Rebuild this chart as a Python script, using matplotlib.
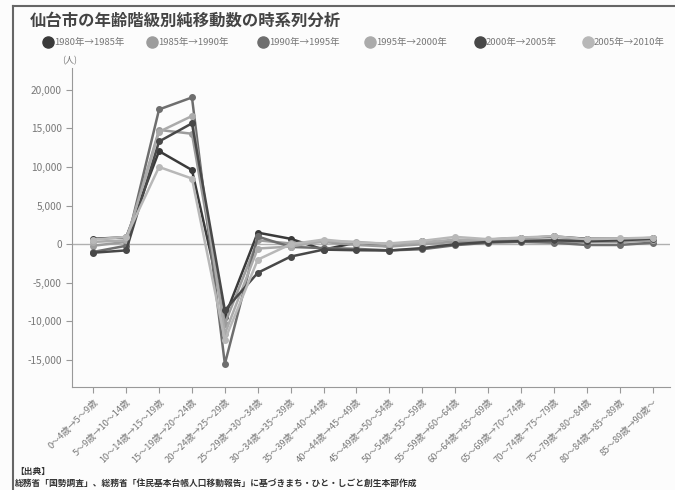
import matplotlib
matplotlib.use("Agg")
import matplotlib.pyplot as plt
from matplotlib.ticker import FuncFormatter
from matplotlib.lines import Line2D

plt.rcParams['font.family'] = ['Noto Sans CJK JP', 'DejaVu Sans']

# age class transitions
categories = ["0～4歳→5～9歳", "5～9歳→10～14歳", "10～14歳→15～19歳", "15～19歳→20～24歳",
              "20～24歳→25～29歳", "25～29歳→30～34歳", "30～34歳→35～39歳", "35～39歳→40～44歳",
              "40～44歳→45～49歳", "45～49歳→50～54歳", "50～54歳→55～59歳", "55～59歳→60～64歳",
              "60～64歳→65～69歳", "65～69歳→70～74歳", "70～74歳→75～79歳", "75～79歳→80～84歳",
              "80～84歳→85～89歳", "85～89歳→90歳～"]

series_names = ["1980年→1985年", "1985年→1990年", "1990年→1995年",
                "1995年→2000年", "2000年→2005年", "2005年→2010年"]
series_colors = ["#3a3a3a", "#9c9c9c", "#6e6e6e", "#ababab", "#484848", "#b8b8b8"]

s1980 = [700, 900, 12050, 9600, -9400, 1500, 700, -700, 200, -300, 400, 300, 600, 800, 1000, 700, 700, 800]
s1985 = [-200, 300, 14800, 14300, -10300, 500, 100, 300, -100, -300, 0, 300, 300, 500, 300, 300, 300, 500]
s1990 = [-1000, -200, 17450, 19000, -15500, 1000, -350, -500, -600, -800, -650, -130, 200, 300, 200, -100, -100, 200]
s1995 = [300, 500, 14550, 16600, -11600, -560, -300, 400, 300, 0, 200, 600, 500, 600, 600, 500, 500, 600]
s2000 = [-1100, -800, 13300, 15650, -8550, -3700, -1600, -700, -780, -820, -500, 0, 300, 400, 500, 400, 500, 700]
s2005 = [600, 950, 10000, 8500, -12400, -2000, 0, 600, 200, 100, 430, 950, 650, 860, 1040, 650, 740, 860]
all_series = [s1980, s1985, s1990, s1995, s2000, s2005]

y_ticks = [-15000, -10000, -5000, 0, 5000, 10000, 15000, 20000]

fig = plt.figure(figsize=(6.75, 4.9), dpi=100)
fig.patch.set_facecolor("#fcfcfc")
ax = fig.add_axes([0.107, 0.21, 0.886, 0.651])
ax.set_facecolor("#fcfcfc")

xs = list(range(len(categories)))
# zero line
ax.axhline(0, color="#b0b0b0", lw=1.0, zorder=1)

for name, col, vals in zip(series_names, series_colors, all_series):
    ax.plot(xs, vals, color=col, lw=1.8, marker="o", ms=4, label=name, zorder=3)

ax.set_xlim(-0.64, 17.54)
ax.set_ylim(-18500, 22800)
ax.set_yticks(y_ticks)
ax.yaxis.set_major_formatter(FuncFormatter(lambda v, p: f"{int(v):,}"))
ax.set_xticks(xs)
ax.set_xticklabels(categories, rotation=45, ha="right", rotation_mode="anchor", fontsize=6.6, color="#777777")
ax.tick_params(axis="y", labelsize=7.3, colors="#777777", length=4, color="#999999")
ax.tick_params(axis="x", length=4, color="#999999")
for sp in ["top", "right"]:
    ax.spines[sp].set_visible(False)
for sp in ["left", "bottom"]:
    ax.spines[sp].set_color("#999999")

# title and unit
fig.text(30 / 675, 1 - 21 / 490, "仙台市の年齢階級別純移動数の時系列分析", fontsize=11.8,
         fontweight="bold", color="#444444", va="center")
fig.text(62 / 675, 1 - 61 / 490, "(人)", fontsize=6.5, color="#777777", va="center")

# legend row
leg_x = [48, 152, 263, 370, 480, 588]
for lx, name, col in zip(leg_x, series_names, series_colors):
    fig.add_artist(Line2D([lx / 675], [1 - 42 / 490], marker="o", ms=8, color=col, lw=0,
                          transform=fig.transFigure))
    fig.text((lx + 6) / 675, 1 - 42 / 490, name, fontsize=6.8, color="#777777", va="center")

# source
fig.text(15 / 675, 1 - 471 / 490, "【出典】", fontsize=6.3, color="#333333", va="center", fontweight="bold")
fig.text(15 / 675, 1 - 483 / 490,
         "総務省「国勢調査」、総務省「住民基本台帳人口移動報告」に基づきまち・ひと・しごと創生本部作成",
         fontsize=6.3, color="#333333", va="center", fontweight="bold")

# frame lines
fig.add_artist(Line2D([13 / 675, 13 / 675], [0, 1 - 6 / 490], color="#666666", lw=1.5, transform=fig.transFigure))
fig.add_artist(Line2D([13 / 675, 1], [1 - 6 / 490, 1 - 6 / 490], color="#666666", lw=1.5, transform=fig.transFigure))

fig.savefig("out.png", dpi=100, facecolor=fig.get_facecolor())
